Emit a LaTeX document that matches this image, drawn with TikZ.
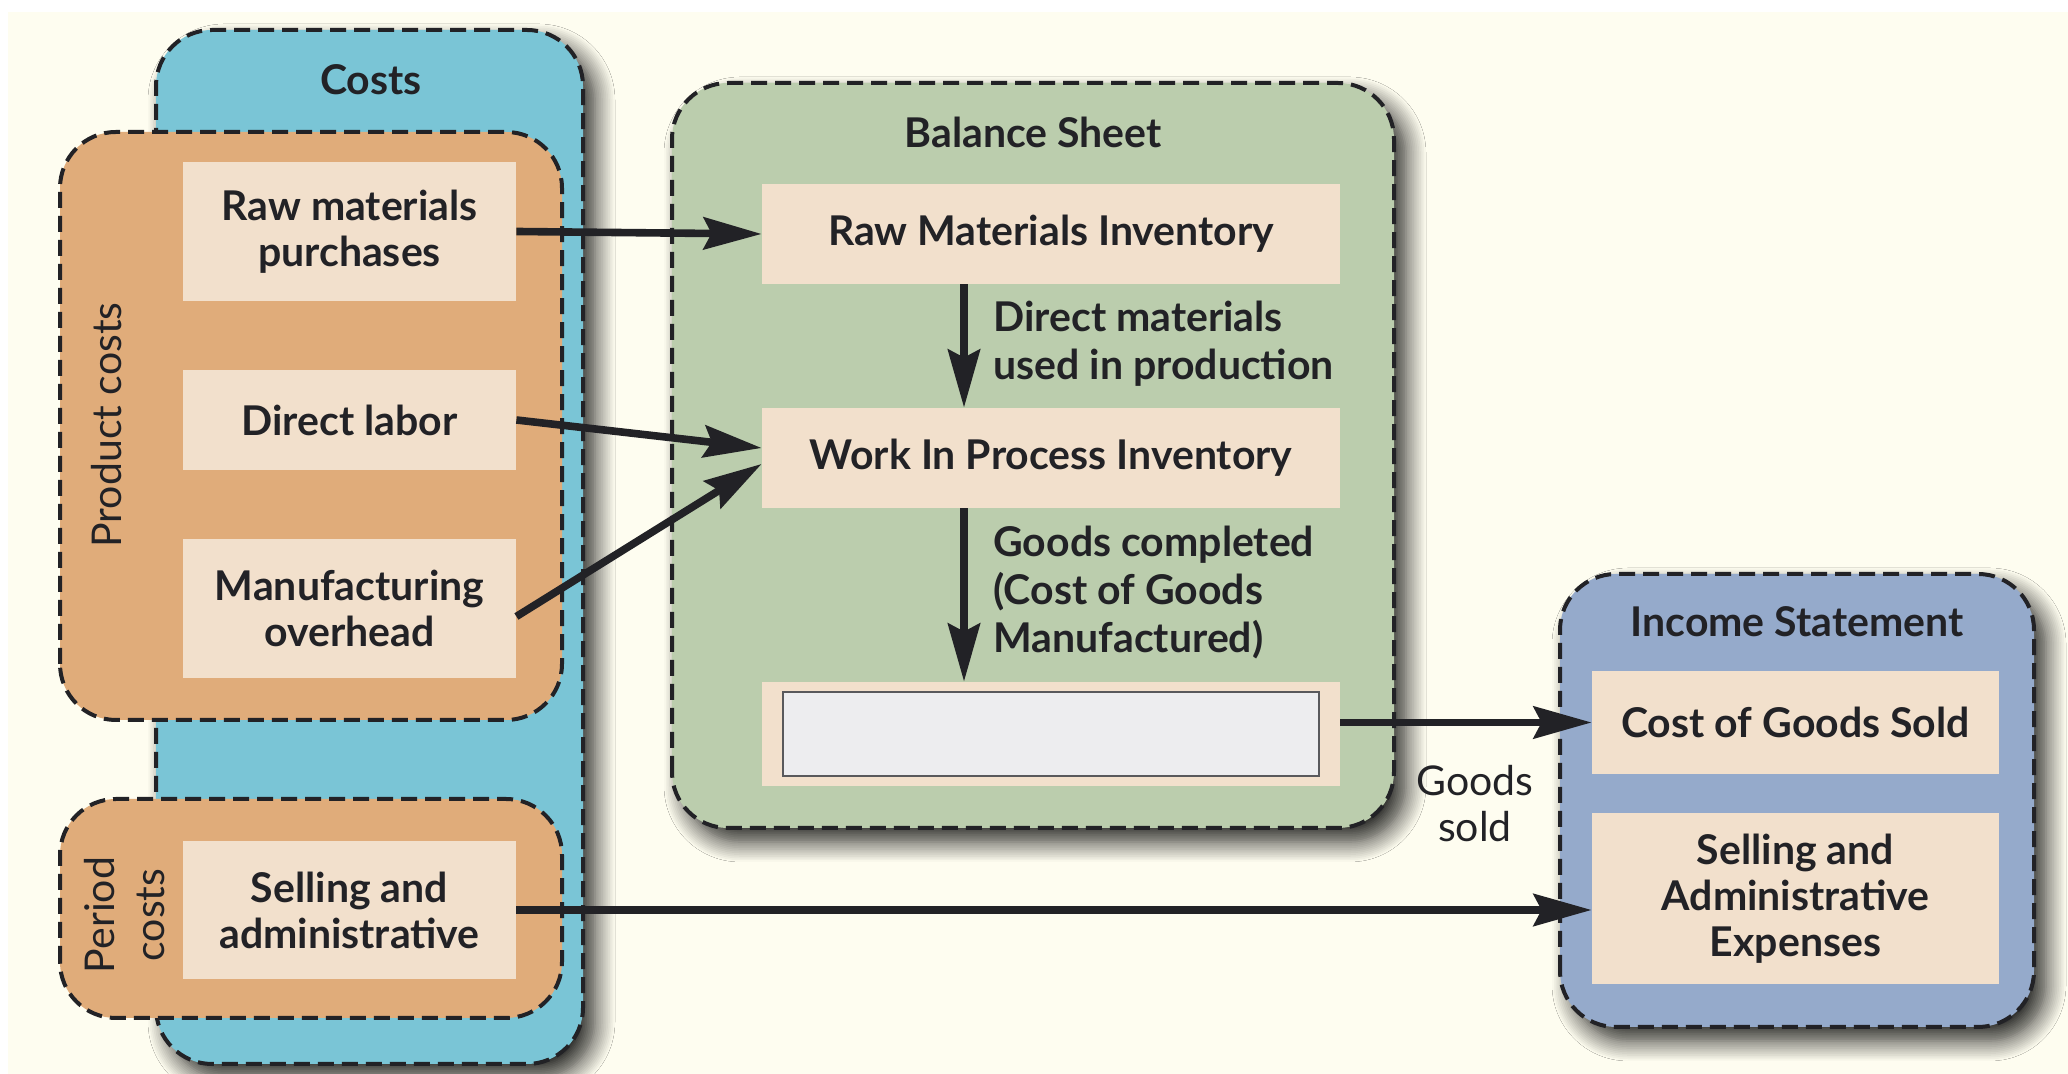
\documentclass[tikz,border=0pt]{standalone}
\usepackage{fontspec}
\setmainfont{Lato}
\usetikzlibrary{arrows.meta,shadows.blur}
\definecolor{cream}{HTML}{FEFDF0}
\definecolor{costblue}{HTML}{7AC5D6}
\definecolor{costorange}{HTML}{E0AC7A}
\definecolor{itemfill}{HTML}{F2E0CC}
\definecolor{sheetgreen}{HTML}{BBCDAD}
\definecolor{stmtblue}{HTML}{95AACB}
\definecolor{blankgrey}{HTML}{EDEDEF}
\definecolor{inkdark}{HTML}{222226}
\begin{document}
\begin{tikzpicture}[x=0.5pt,y=0.5pt,
    font=\fontsize{20.5}{23}\selectfont,text=inkdark,
    panel/.style={draw=inkdark,line width=2pt,dash pattern=on 8pt off 4pt,rounded corners=28pt},
    shade/.style={blur shadow={shadow xshift=6pt,shadow yshift=-7pt,shadow blur radius=10pt,shadow blur steps=12,shadow opacity=85}},
    item/.style={fill=itemfill,inner sep=0pt,align=center,font=\fontsize{20.5}{23}\selectfont\bfseries},
    heading/.style={font=\fontsize{20.5}{23}\selectfont\bfseries},
    note/.style={anchor=west,inner xsep=0pt,align=left,font=\fontsize{20.5}{24}\selectfont\bfseries},
    flow/.style={draw=inkdark,line width=3.8pt,-{Stealth[length=29pt,width=16pt,inset=4pt]}}]
    \useasboundingbox[fill=white] (0,0) rectangle (2068,1074);
    \fill[cream] (8,0) rectangle (2068,1062);
    % costs column
    \draw[panel,fill=costblue,shade] (156,10) rectangle (583,1044);
    \node[heading] (costs) at (371,994) {Costs};
    \draw[panel,fill=costorange] (60,354) rectangle (562,942);
    \draw[panel,fill=costorange] (60,56) rectangle (562,275);
    \node[rotate=90] (prodlbl) at (107,649) {Product costs};
    \node[rotate=90,align=center,font=\fontsize{20.5}{25}\selectfont] (perlbl) at (125,159) {Period\\costs};
    \node[item,minimum width=166.5pt,minimum height=69.5pt] (rmp) at (349.5,842.5) {Raw materials\\purchases};
    \node[item,minimum width=166.5pt,minimum height=50pt] (dl) at (349.5,654) {Direct labor};
    \node[item,minimum width=166.5pt,minimum height=69.5pt] (mo) at (349.5,465.5) {Manufacturing\\overhead};
    \node[item,minimum width=166.5pt,minimum height=69pt] (sa) at (349.5,164) {Selling and\\administrative};
    % balance sheet
    \draw[panel,fill=sheetgreen,shade] (672,246) rectangle (1394,991);
    \node[heading] (bstitle) at (1033,942) {Balance Sheet};
    \node[item,minimum width=289pt,minimum height=50pt] (rmi) at (1051,840) {Raw Materials Inventory};
    \node[item,minimum width=289pt,minimum height=50pt] (wip) at (1051,616) {Work In Process Inventory};
    \node[item,minimum width=289pt,minimum height=52pt] (fg) at (1051,340) {};
    \node[draw=inkdark!75,line width=0.8pt,fill=blankgrey,minimum width=268pt,minimum height=42pt] (fgblank) at (fg) {};
    \node[note] (dmlbl) at (993,730.5) {Direct materials\\used in production};
    \node[note] (gclbl) at (993,481) {Goods completed\\(Cost of Goods\\Manufactured)};
    % income statement
    \draw[panel,fill=stmtblue,shade] (1560,47) rectangle (2034,500);
    \node[heading] (istitle) at (1797,452) {Income Statement};
    \node[item,minimum width=203.5pt,minimum height=51.5pt] (cogs) at (1795.5,351.5) {Cost of Goods Sold};
    \node[item,minimum width=203.5pt,minimum height=85.5pt] (sae) at (1795.5,175.5) {Selling and\\Administrative\\Expenses};
    \node[align=center] (gslbl) at (1475,270) {Goods\\sold};
    % flows
    \draw[flow] (rmp.east) -- (rmi.west);
    \draw[flow] (dl.east) -- ([yshift=5pt]wip.west);
    \draw[flow] ([yshift=-4pt]mo.east) -- ([yshift=-3pt]wip.west);
    \draw[flow] ([xshift=-43.5pt]rmi.south) -- ([xshift=-43.5pt]wip.north);
    \draw[flow] ([xshift=-43.5pt]wip.south) -- ([xshift=-43.5pt]fg.north);
    \draw[flow] (fg.east |- cogs.west) -- (cogs.west);
    \draw[flow] (sa.east) -- (sa.east -| sae.west);
\end{tikzpicture}
\end{document}
